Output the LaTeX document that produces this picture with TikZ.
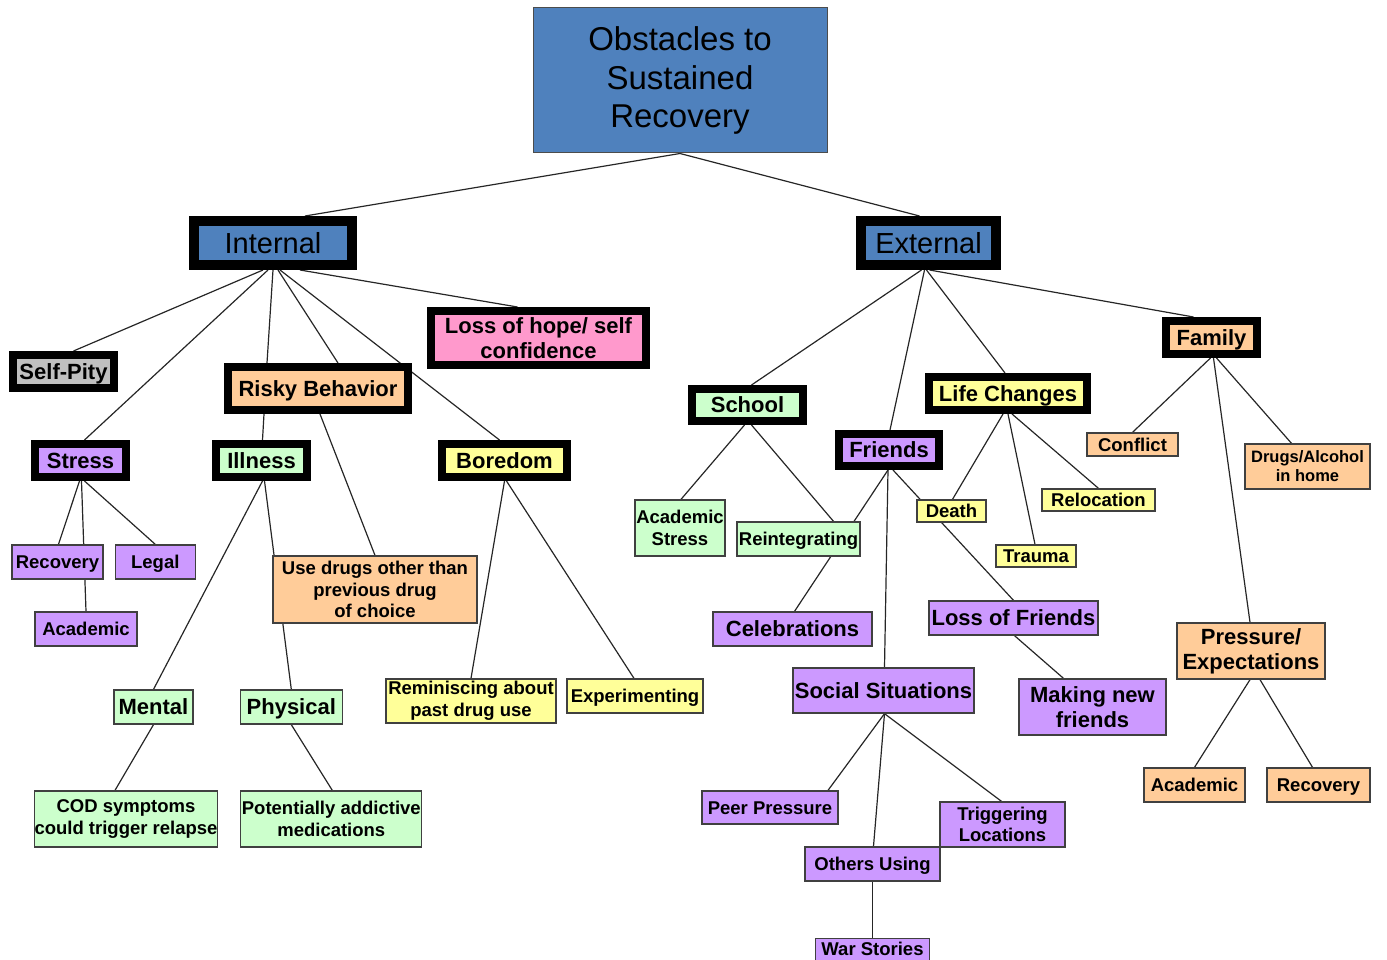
\documentclass[tikz,border=0pt]{standalone}
\usepackage{fontspec}
\setmainfont{Liberation Sans}
\usetikzlibrary{positioning, backgrounds}
\definecolor{hdrblue}{HTML}{4F81BD}
\definecolor{peach}{HTML}{FFCC99}
\definecolor{pink}{HTML}{FF99CC}
\definecolor{lilac}{HTML}{CC99FF}
\definecolor{mint}{HTML}{CCFFCC}
\definecolor{lemon}{HTML}{FFFF99}
\definecolor{grey}{HTML}{C0C0C0}
\tikzset{
  topic/.style={draw=black!70, fill=hdrblue, line width=1pt, inner sep=0pt, align=center, font=\fontsize{33}{38.5}\selectfont},
  side/.style={draw=black, fill=hdrblue, line width=10pt, inner sep=0pt, text height=20.8pt, text depth=0pt, font=\fontsize{29}{34}\selectfont},
  group/.style={draw=black, line width=8pt, inner sep=0pt, align=center, text height=15.8pt, text depth=0pt, font=\fontsize{22}{25}\selectfont\bfseries},
  item/.style={draw=black!75, line width=1.3pt, inner sep=0pt, align=center, text height=13.3pt, text depth=0pt, font=\fontsize{18.5}{21.5}\selectfont\bfseries},
  bigitem/.style={item, text height=15.8pt, font=\fontsize{22}{25}\selectfont\bfseries},
  multi/.style={text height=, text depth=},
  link/.style={draw=black!85, line width=1.2pt}
}

\begin{document}
\begin{tikzpicture}[x=1pt, y=-1pt, node distance=10pt]
  \useasboundingbox (0,0) rectangle (1387,960);

  \node[topic, minimum width=294pt, minimum height=145pt] (title) at (680,80.5) {Obstacles to\\Sustained\\Recovery};
  \node[side, minimum width=158pt, minimum height=44pt] (int) at (273,243) {Internal};
  \node[side, minimum width=135pt, minimum height=44pt] (ext) at (928.5,243) {External};

  \node[group, fill=grey, minimum width=101pt, minimum height=33pt] (pity) at (63.5,371.5) {Self-Pity};
  \node[group, fill=peach, minimum width=180pt, minimum height=43pt] (risky) at (318,388.5) {Risky Behavior};
  \node[group, multi, fill=pink, minimum width=215pt, minimum height=54pt] (hope) at (538.5,338) {Loss of hope/ self\\confidence};
  \node[group, fill=lilac, minimum width=91pt, minimum height=33pt] (stress) at (80.5,460.5) {Stress};
  \node[group, fill=mint, minimum width=91pt, minimum height=33pt] (ill) at (261.5,460.5) {Illness};
  \node[group, fill=lemon, minimum width=125pt, minimum height=33pt] (bored) at (504.5,460.5) {Boredom};

  \node[item, fill=lilac, minimum width=91pt, minimum height=34pt] (recS) at (57.5,562) {Recovery};
  \node[item, fill=lilac, minimum width=80pt, minimum height=34pt, right=11pt of recS] (legal) {Legal};
  \node[item, fill=lilac, minimum width=102pt, minimum height=34pt] (acadS) at (86,629) {Academic};
  \node[item, multi, fill=peach, minimum width=204pt, minimum height=67pt] (other) at (375,589.5) {Use drugs other than\\previous drug\\of choice};
  \node[bigitem, fill=mint, minimum width=79pt, minimum height=34pt] (mental) at (153.5,707) {Mental};
  \node[bigitem, fill=mint, minimum width=102pt, minimum height=34pt, right=46pt of mental] (phys) {Physical};
  \node[item, multi, fill=mint, minimum width=182pt, minimum height=56pt] (cod) at (126,819) {COD symptoms\\could trigger relapse};
  \node[item, multi, fill=mint, minimum width=181pt, minimum height=56pt, right=22pt of cod] (meds) {Potentially addictive\\medications};
  \node[item, multi, fill=lemon, minimum width=170pt, minimum height=44pt] (remin) at (471,701) {Reminiscing about\\past drug use};
  \node[item, fill=lemon, minimum width=136pt, minimum height=34pt] (exper) at (635,696) {Experimenting};

  \node[group, fill=mint, minimum width=111pt, minimum height=32pt] (school) at (747.5,405) {School};
  \node[group, fill=lilac, minimum width=100pt, minimum height=32pt] (friends) at (889,450) {Friends};
  \node[group, fill=lemon, minimum width=158pt, minimum height=33pt] (life) at (1008,393.5) {Life Changes};
  \node[group, fill=peach, minimum width=91pt, minimum height=33pt] (family) at (1211.5,337.5) {Family};

  \node[item, multi, fill=mint, minimum width=90pt, minimum height=56pt] (acadst) at (680,528) {Academic\\Stress};
  \node[item, fill=mint, minimum width=123pt, minimum height=34pt] (reint) at (798.5,539) {Reintegrating};
  \node[bigitem, fill=lilac, minimum width=159pt, minimum height=34pt] (celeb) at (792.5,629) {Celebrations};
  \node[item, fill=lemon, minimum width=69pt, minimum height=22pt] (death) at (951.5,511) {Death};
  \node[item, fill=lemon, minimum width=113pt, minimum height=22pt] (reloc) at (1098.5,500) {Relocation};
  \node[item, fill=lemon, minimum width=80pt, minimum height=22pt] (trauma) at (1036,556) {Trauma};
  \node[bigitem, fill=lilac, minimum width=169pt, minimum height=34pt] (lossf) at (1013.5,618) {Loss of Friends};
  \node[bigitem, multi, fill=lilac, minimum width=147pt, minimum height=56pt] (newf) at (1092.5,707) {Making new\\friends};
  \node[bigitem, fill=lilac, minimum width=181pt, minimum height=45pt] (social) at (883.5,690.5) {Social Situations};
  \node[item, fill=lilac, minimum width=136pt, minimum height=33pt] (peer) at (770,807.5) {Peer Pressure};
  \node[item, multi, fill=lilac, minimum width=125pt, minimum height=45pt] (trig) at (1002.5,824.5) {Triggering\\Locations};
  \node[item, fill=lilac, minimum width=135pt, minimum height=34pt] (others) at (872.5,864) {Others Using};
  \node[item, fill=lilac, minimum width=114pt, minimum height=22pt, below=56pt of others] (war) {War Stories};
  \node[item, fill=peach, minimum width=91pt, minimum height=23pt] (conflict) at (1132.5,444.5) {Conflict};
  \node[item, multi, fill=peach, minimum width=125pt, minimum height=45pt, font=\fontsize{16.5}{19}\selectfont\bfseries] (drugs) at (1307.5,466.5) {Drugs/Alcohol\\in home};
  \node[bigitem, multi, fill=peach, minimum width=148pt, minimum height=56pt] (press) at (1251,651) {Pressure/\\Expectations};
  \node[item, fill=peach, minimum width=101pt, minimum height=34pt] (acadF) at (1194.5,785) {Academic};
  \node[item, fill=peach, minimum width=103pt, minimum height=34pt] (recF) at (1318.5,785) {Recovery};

  \begin{scope}[on background layer]
  \draw[link] (title.south) -- ([xshift=32pt]int.north);
  \draw[link] (title.south) -- ([xshift=-9pt]ext.north);
  \draw[link] ([xshift=-10pt]int.south) -- ([xshift=10pt]pity.north);
  \draw[link] ([xshift=-5pt]int.south) -- ([xshift=4pt]stress.north);
  \draw[link] (int.south) -- ([xshift=-51pt]risky.north);
  \draw[link] ([xshift=5pt]int.south) -- ([xshift=20pt]risky.north);
  \draw[link] ([xshift=7pt]int.south) -- ([xshift=-5pt]bored.north);
  \draw[link] ([xshift=27pt]int.south) -- ([xshift=-21pt]hope.north);
  \draw[link] ([xshift=-54pt]risky.south) -- ([xshift=1pt]ill.north);
  \draw[link] ([xshift=2pt]risky.south) -- (other.north);
  \draw[link] ([xshift=-1pt]stress.south) -- ([xshift=1pt]recS.north);
  \draw[link] ([xshift=1pt]stress.south) -- (acadS.north);
  \draw[link] ([xshift=4pt]stress.south) -- (legal.north);
  \draw[link] ([xshift=1pt]ill.south) -- (mental.north);
  \draw[link] ([xshift=3pt]ill.south) -- (phys.north);
  \draw[link] (mental.south) -- ([xshift=-11pt]cod.north);
  \draw[link] (phys.south) -- ([xshift=1pt]meds.north);
  \draw[link] (bored.south) -- (remin.north);
  \draw[link] ([xshift=2pt]bored.south) -- ([xshift=-1pt]exper.north);
  \draw[link] ([xshift=-7pt]ext.south) -- ([xshift=4pt]school.north);
  \draw[link] ([xshift=-4pt]ext.south) -- ([xshift=1pt]friends.north);
  \draw[link] ([xshift=-2pt]ext.south) -- ([xshift=-3pt]life.north);
  \draw[link] ([xshift=1pt]ext.south) -- ([xshift=-18pt]family.north);
  \draw[link] ([xshift=-3pt]school.south) -- ([xshift=1pt]acadst.north);
  \draw[link] ([xshift=4pt]school.south) -- ([xshift=35pt]reint.north);
  \draw[link] ([xshift=-1pt]friends.south) -- ([xshift=2pt]celeb.north);
  \draw[link] ([xshift=-1pt]friends.south) -- ([xshift=1pt]social.north);
  \draw[link] ([xshift=4pt]friends.south) -- (lossf.north);
  \draw[link] ([xshift=1pt]lossf.south) -- ([xshift=-29pt]newf.north);
  \draw[link] ([xshift=-5pt]life.south) -- ([xshift=1pt]death.north);
  \draw[link] (life.south) -- ([xshift=-1pt]trauma.north);
  \draw[link] ([xshift=4pt]life.south) -- (reloc.north);
  \draw[link] ([xshift=-1pt]family.south) -- (conflict.north);
  \draw[link] ([xshift=2pt]family.south) -- ([xshift=-1pt]press.north);
  \draw[link] ([xshift=5pt]family.south) -- ([xshift=-16pt]drugs.north);
  \draw[link] ([xshift=-1pt]press.south) -- (acadF.north);
  \draw[link] ([xshift=9pt]press.south) -- ([xshift=-6pt]recF.north);
  \draw[link] ([xshift=1pt]social.south) -- ([xshift=58pt]peer.north);
  \draw[link] ([xshift=1pt]social.south) -- ([xshift=1pt]others.north);
  \draw[link] ([xshift=1pt]social.south) -- ([xshift=-1pt]trig.north);
  \draw[link] (others.south) -- (war.north);
  \end{scope}
\end{tikzpicture}
\end{document}
